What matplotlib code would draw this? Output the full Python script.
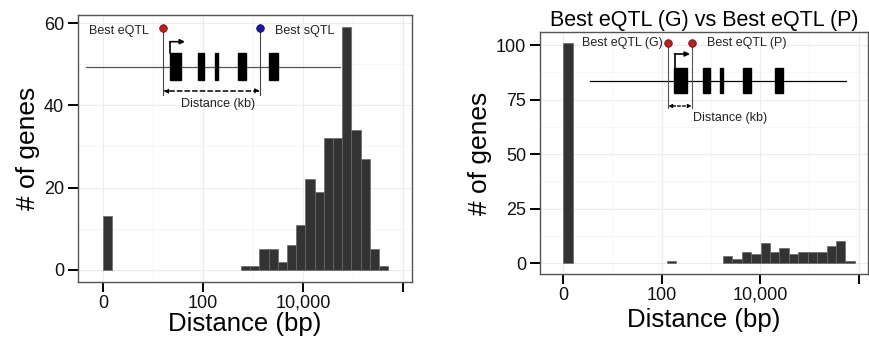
import matplotlib
matplotlib.use("Agg")
import matplotlib.pyplot as plt
import numpy as np
from matplotlib.patches import Rectangle

plt.rcParams['font.family'] = ['Liberation Sans', 'DejaVu Sans']

# ---------------- data ----------------
# histogram bins (index of bin on log10(distance+1) scale) and counts
left_binwidth = 0.184
left_bin_index = [0, 15, 16, 17, 18, 19, 20, 21, 22, 23, 24, 25, 26, 27, 28, 29, 30]
left_counts = [13, 1, 1, 5, 5, 2, 6, 11, 22, 19, 32, 32, 59, 34, 27, 5, 1]

right_binwidth = 0.191
right_bin_index = [0, 11, 17, 18, 19, 20, 21, 22, 23, 24, 25, 26, 27, 28, 29, 30]
right_counts = [101, 1, 3, 2, 5, 4, 9, 5, 7, 4, 5, 5, 5, 8, 10, 1]

x_tick_pos = [0, 2, 4, 6]
x_tick_labels = ["0", "100", "10,000", ""]
left_y_ticks = [0, 20, 40, 60]
right_y_ticks = [0, 25, 50, 75, 100]

right_title = "Best eQTL (G) vs Best eQTL (P)"
xlabel = "Distance (bp)"
ylabel = "# of genes"

# ---------------- figure ----------------
W, H = 870, 341
fig = plt.figure(figsize=(W / 100, H / 100), dpi=100)

def px_axes(l, t, r, b):
    return fig.add_axes([l / W, 1 - b / H, (r - l) / W, (b - t) / H])

axL = px_axes(78, 15, 412, 282)
axR = px_axes(540, 32, 868, 274)

bar_color = '#333333'
edge_color = '#6a6a6a'

def style(ax, yticks, ylim, xlim, xpad):
    ax.set_xlim(*xlim)
    ax.set_ylim(*ylim)
    ax.set_xticks(x_tick_pos)
    ax.set_xticklabels(x_tick_labels)
    ax.set_yticks(yticks)
    ax.set_xticks([1, 3, 5], minor=True)
    ymin_minor = [(yticks[i] + yticks[i + 1]) / 2 for i in range(len(yticks) - 1)]
    ax.set_yticks(ymin_minor, minor=True)
    ax.grid(True, which='major', color='#ececec', lw=0.8)
    ax.grid(True, which='minor', color='#f5f5f5', lw=0.6)
    ax.set_axisbelow(True)
    for s in ax.spines.values():
        s.set_color('#555555')
        s.set_linewidth(1.0)
    ax.tick_params(which='major', direction='out', length=7, width=1.4,
                   color='black', labelsize=13, labelcolor='#111111', pad=3)
    ax.tick_params(axis='x', which='major', pad=2)
    ax.tick_params(which='minor', length=0)
    ax.set_xlabel(xlabel, fontsize=18.5, labelpad=xpad)
    ax.set_ylabel(ylabel, fontsize=19, labelpad=3)

# left histogram
xl = np.array(left_bin_index) * left_binwidth
axL.bar(xl, left_counts, width=left_binwidth, align='edge',
        color=bar_color, edgecolor=edge_color, linewidth=0.5, zorder=3)
style(axL, left_y_ticks, (-2.95, 61.95), (-0.5, 6.18), 0)

# right histogram
xr = np.array(right_bin_index) * right_binwidth
axR.bar(xr, right_counts, width=right_binwidth, align='edge',
        color=bar_color, edgecolor=edge_color, linewidth=0.5, zorder=3)
style(axR, right_y_ticks, (-5.05, 106.05), (-0.47, 6.19), 3)
axR.set_title(right_title, fontsize=15.5, pad=4)

# ---------------- inset gene diagrams (pixel overlay) ----------------
ov = fig.add_axes([0, 0, 1, 1], zorder=10)
ov.set_xlim(0, W)
ov.set_ylim(H, 0)
ov.axis('off')
ov.patch.set_alpha(0)

fs_in = 9

def exon(x0, x1, y0, y1):
    ov.add_patch(Rectangle((x0, y0), x1 - x0, y1 - y0, color='black', zorder=5))

# left diagram
ov.plot([86, 340], [66.7, 66.7], color='#555555', lw=0.9, zorder=4)
for (a, b) in [(170, 181), (198.3, 204.3), (215, 218.3), (237.7, 246), (269.3, 278.3)]:
    exon(a, b, 53.3, 80)
ov.plot([170.5, 170.5], [53.3, 41.7], color='black', lw=1.2, zorder=6)
ov.annotate('', xy=(185, 41.7), xytext=(170, 41.7),
            arrowprops=dict(arrowstyle='-|>', color='black', lw=1.2,
                            mutation_scale=7, shrinkA=0, shrinkB=0), zorder=6)
ov.plot([163.3, 163.3], [28.3, 95], color='#444444', lw=0.8, zorder=4)
ov.plot([260, 260], [28.3, 95], color='#444444', lw=0.8, zorder=4)
ov.plot([163.3], [28.3], 'o', ms=5.5, color='#b22222', mec='#7a0000', mew=0.5, zorder=7)
ov.plot([260], [28.3], 'o', ms=5.5, color='#1a1aa0', mec='#000060', mew=0.5, zorder=7)
ov.annotate('', xy=(163.3, 91), xytext=(260, 91),
            arrowprops=dict(arrowstyle='<|-|>', color='black', lw=1.1, ls=(0, (3, 2)),
                            mutation_scale=6, shrinkA=0, shrinkB=0), zorder=6)
ov.text(217.7, 104, 'Distance (kb)', fontsize=fs_in, ha='center', va='center', color='#222222')
ov.text(149.3, 30.7, 'Best eQTL', fontsize=fs_in, ha='right', va='center', color='#222222')
ov.text(275, 30.7, 'Best sQTL', fontsize=fs_in, ha='left', va='center', color='#222222')

# right diagram
ov.plot([590, 846], [80.7, 80.7], color='black', lw=0.9, zorder=4)
for (a, b) in [(674.3, 686.7), (703.3, 710), (720.3, 723.3), (743.3, 751.3), (775, 783.3)]:
    exon(a, b, 67.7, 93.3)
ov.plot([675, 675], [67.7, 54], color='black', lw=1.2, zorder=6)
ov.annotate('', xy=(690, 54), xytext=(674.5, 54),
            arrowprops=dict(arrowstyle='-|>', color='black', lw=1.2,
                            mutation_scale=7, shrinkA=0, shrinkB=0), zorder=6)
ov.plot([668.3, 668.3], [42.7, 108.3], color='#555555', lw=0.8, zorder=4)
ov.plot([691.7, 691.7], [42.7, 108.3], color='#555555', lw=0.8, zorder=4)
ov.plot([668.3, 691.7], [42.7, 42.7], 'o', ms=5.5, color='#b22222', mec='#7a0000', mew=0.5, zorder=7)
ov.annotate('', xy=(668.3, 106), xytext=(691.7, 106),
            arrowprops=dict(arrowstyle='<|-|>', color='black', lw=1.0, ls=(0, (2, 1.5)),
                            mutation_scale=5, shrinkA=0, shrinkB=0), zorder=6)
ov.text(730, 118.3, 'Distance (kb)', fontsize=fs_in, ha='center', va='center', color='#222222')
ov.text(662.7, 43.3, 'Best eQTL (G)', fontsize=fs_in, ha='right', va='center', color='#222222')
ov.text(706.7, 43.3, 'Best eQTL (P)', fontsize=fs_in, ha='left', va='center', color='#222222')

fig.savefig('out.png', dpi=100)
